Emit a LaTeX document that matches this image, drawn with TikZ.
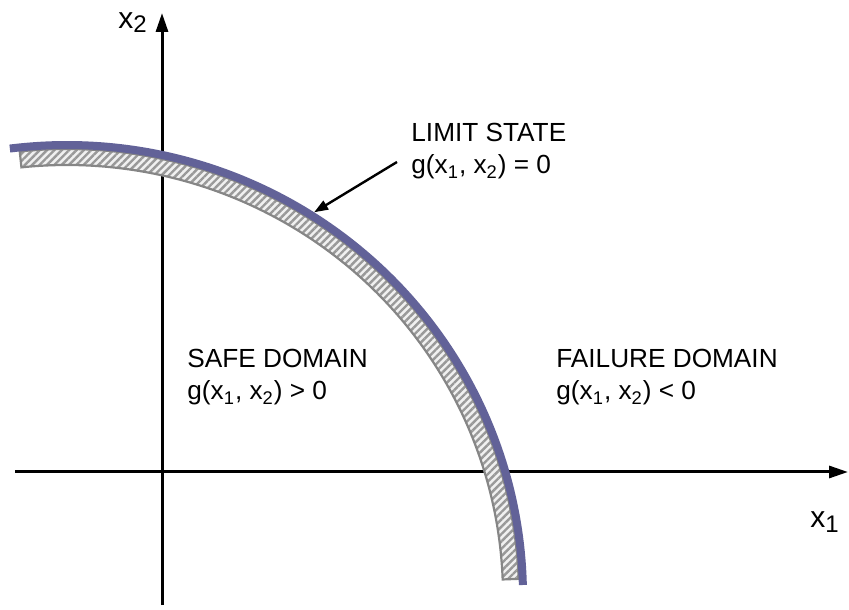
\documentclass[tikz,border=0pt]{standalone}
\usepackage{fontspec}
\setmainfont{Liberation Sans}
\usepackage{tikz}
\usetikzlibrary{arrows.meta, patterns.meta}
\definecolor{rimblue}{RGB}{98,98,152}
\newcommand{\gxx}{g(x\textsubscript{1}, x\textsubscript{2})}
\newcommand{\axsub}[1]{\raisebox{-2pt}{\fontsize{12}{12}\selectfont #1}}

\begin{document}
\begin{tikzpicture}[
  x=0.5pt, y=0.5pt,
  font=\fontsize{13.1}{15}\selectfont,
  axis/.style={line width=1.5pt, -{Triangle[length=9.5pt,width=6pt]}},
  rim/.style={line width=4pt, draw=rimblue},
  band/.style={draw=gray!95, line width=1.1pt, preaction={fill=gray!12},
               pattern={Lines[angle=45,distance=2.6pt,line width=1.2pt]}, pattern color=gray!80},
  lbl/.style={anchor=base west, inner sep=0pt},
  axlbl/.style={anchor=base west, inner sep=0pt, font=\fontsize{15}{17}\selectfont},
  pointer/.style={line width=1.2pt, -{Triangle[length=7pt,width=5pt]}},
]
\useasboundingbox (0,0) rectangle (849,609);
% --- axes ---
\coordinate (xs) at (15,137);
\coordinate (xe) at (848,137);
\coordinate (ys) at (162,4);
\coordinate (ye) at (162,596);
\draw[axis] (xs) -- (xe);
\draw[axis] (ys) -- (ye);
\node[axlbl] (x1) at (810,81) {x\axsub{1}};
\node[axlbl] (x2) at (118,580) {x\axsub{2}};
% --- limit state band ---
\begin{scope}[shift={(67,13)}]
  \draw[band] (96:452 and 447) arc[start angle=96, end angle=2.2, x radius=452, y radius=447]
    -- (2.2:436 and 431) arc[start angle=2.2, end angle=96, x radius=436, y radius=431] -- cycle;
  \draw[rim] (97.2:456 and 451) arc[start angle=97.2, end angle=1.4, x radius=456, y radius=451];
  \coordinate (tip) at (57.5:460 and 455);
\end{scope}
% --- labels ---
\node[lbl] (ls) at (411,467) {LIMIT STATE};
\node[lbl] (lsg) at (411,435) {\gxx{} = 0};
\coordinate (lsend) at (397,447);
\draw[pointer] (lsend) -- (tip);
\node[lbl] (safe) at (187,241) {SAFE DOMAIN};
\node[lbl] (safeg) at (187,209) {\gxx{} > 0};
\node[lbl] (fail) at (556,241) {FAILURE DOMAIN};
\node[lbl] (failg) at (556,209) {\gxx{} < 0};
\end{tikzpicture}
\end{document}
